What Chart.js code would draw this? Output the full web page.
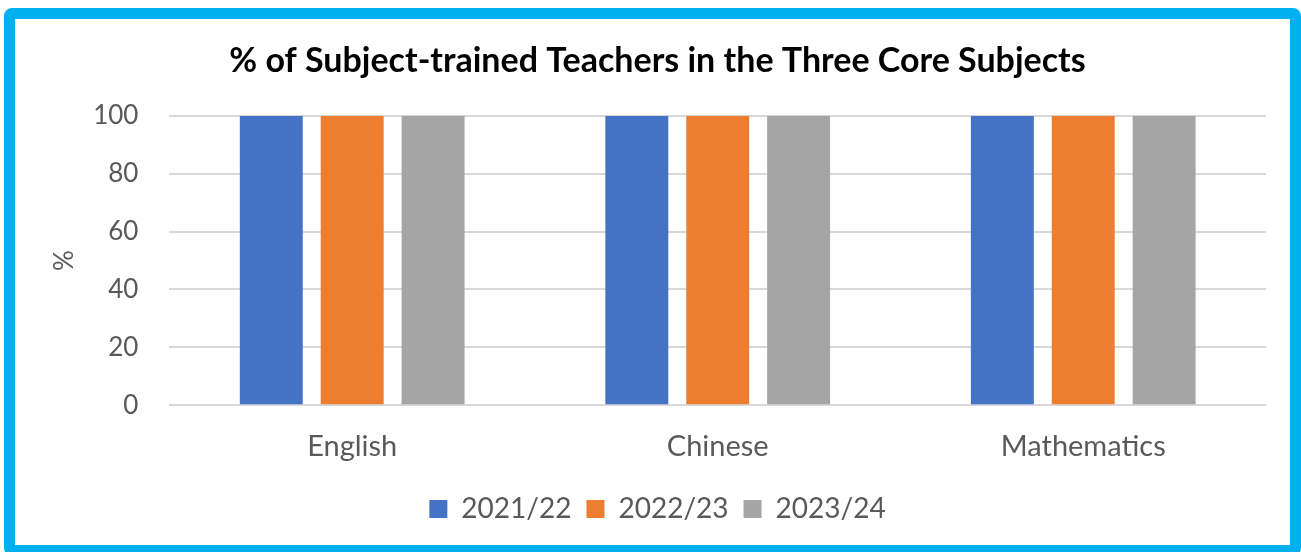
<!DOCTYPE html>
<html>
<head>
<meta charset="utf-8">
<script src="https://cdn.jsdelivr.net/npm/chart.js@4"></script>
<style>
  html, body { margin: 0; padding: 0; background: #fff; overflow: hidden; }
  .frame {
    position: absolute; left: 4px; top: 8px;
    width: 1275px; height: 526px;
    border: 11px solid #00b0f0; border-radius: 8px;
    background: #fff;
  }
  .frame canvas { display: block; }
</style>
</head>
<body>
<div class="frame"><canvas id="c" width="1275" height="526"></canvas></div>
<script>
const categories = ['English', 'Chinese', 'Mathematics'];
const seriesNames = ['2021/22', '2022/23', '2023/24'];
const values2021 = [100, 100, 100];
const values2022 = [100, 100, 100];
const values2023 = [100, 100, 100];
const seriesColors = ['#4472c4', '#ed7d31', '#a5a5a5'];

const FONT = 'Lato, "Open Sans", sans-serif';

new Chart(document.getElementById('c'), {
  type: 'bar',
  data: {
    labels: categories,
    datasets: [values2021, values2022, values2023].map((v, i) => ({
      label: seriesNames[i],
      data: v,
      backgroundColor: seriesColors[i],
      categoryPercentage: 0.664,
      barPercentage: 0.778
    }))
  },
  options: {
    responsive: false,
    animation: false,
    layout: { padding: { left: 34, right: 24, top: 22, bottom: 12 } },
    plugins: {
      title: {
        display: true,
        text: '% of Subject-trained Teachers in the Three Core Subjects',
        color: '#000',
        font: { family: FONT, size: 34, weight: 'bold' },
        padding: { top: 0, bottom: 34 }
      },
      legend: {
        position: 'bottom',
        labels: {
          color: '#595959',
          font: { family: FONT, size: 28 },
          boxWidth: 18, boxHeight: 18, padding: 15
        }
      },
      tooltip: { enabled: false }
    },
    scales: {
      x: {
        grid: { display: false },
        border: { color: '#d9d9d9' },
        ticks: { color: '#595959', font: { family: FONT, size: 29 }, padding: 16 }
      },
      y: {
        min: 0, max: 100,
        ticks: { stepSize: 20, color: '#595959', font: { family: FONT, size: 26 }, padding: 31 },
        grid: { color: '#d9d9d9', lineWidth: 2, drawTicks: false },
        border: { display: false },
        title: {
          display: true, text: '%', color: '#595959',
          font: { family: FONT, size: 26 }, padding: { top: 0, bottom: -18 }
        }
      }
    }
  }
});
</script>
</body>
</html>
